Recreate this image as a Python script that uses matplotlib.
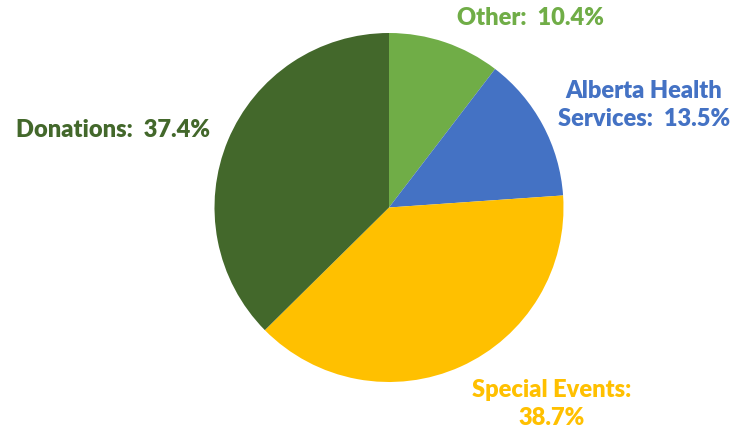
import matplotlib.pyplot as plt

# revenue sources, clockwise from the top
labels = ["Other", "Alberta Health\nServices", "Special Events", "Donations"]
shares = [10.4, 13.5, 38.7, 37.4]
colors = ["#70AD47", "#4472C4", "#FFC000", "#43682B"]

H = 430  # figure height in px, used to flip y so positions read like the picture

fig = plt.figure(figsize=(7.43, 4.30), dpi=100)
ax = fig.add_axes([0, 0, 1, 1])

ax.pie(shares, colors=colors, startangle=90, counterclock=False,
       center=(389, H - 207.5), radius=174.5, frame=True,
       wedgeprops=dict(linewidth=0))
ax.set_xlim(0, 743)
ax.set_ylim(0, H)
ax.set_aspect("equal")
ax.axis("off")

font = dict(family=["Lato", "DejaVu Sans"], fontweight="heavy", fontsize=17,
            ha="center", va="center")

# label text, position (px from top-left)
txt = [
    ("Other:  10.4%", 530, 18),
    ("Alberta Health\nServices:  13.5%", 644, 105),
    ("Special Events:\n38.7%", 552, 404),
    ("Donations:  37.4%", 113, 130),
]
for (s, x, y), c in zip(txt, colors):
    ax.text(x, H - y, s, color=c, linespacing=1.38, **font)

fig.savefig("out.png", dpi=100)
